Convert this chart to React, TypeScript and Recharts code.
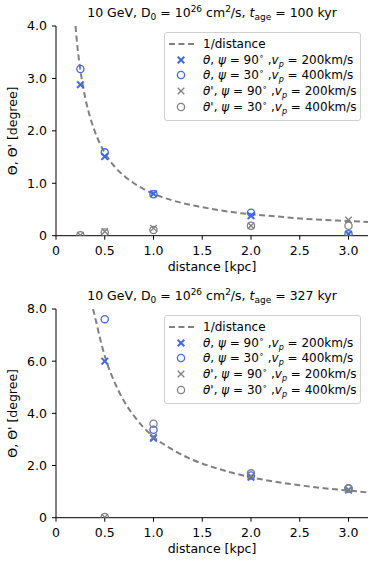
import React from 'react';
import { ComposedChart, Line, Scatter, XAxis, YAxis, Legend } from 'recharts';

const FONT = '"DejaVu Sans", "Liberation Sans", sans-serif';
const BLUE = '#4169e1';
const GRAY = '#808080';

// upper panel, t_age = 100 kyr
const distTop = [0.25, 0.5, 1.0, 2.0, 3.0];
const thetaP90Top = [2.88, 1.51, 0.8, 0.38, 0.03];
const thetaP30Top = [3.18, 1.59, 0.79, 0.44, 0.03];
const thetaPrime90Top = [0.01, 0.08, 0.14, 0.19, 0.3];
const thetaPrime30Top = [0.01, 0.06, 0.11, 0.19, 0.19];
const curveDistTop = [0.2, 0.22, 0.25, 0.3, 0.35, 0.4, 0.45, 0.5, 0.6, 0.7, 0.8, 0.9, 1.0, 1.2, 1.4, 1.6, 1.8, 2.0, 2.25, 2.5, 2.75, 3.0, 3.2];
const curveValTop = [4.0, 3.6, 3.16, 2.63, 2.26, 1.98, 1.76, 1.58, 1.32, 1.14, 1.0, 0.89, 0.8, 0.67, 0.58, 0.51, 0.45, 0.41, 0.37, 0.33, 0.3, 0.28, 0.26];

// lower panel, t_age = 327 kyr
const distBot = [0.5, 1.0, 2.0, 3.0];
const thetaP90Bot = [6.0, 3.05, 1.55, 1.06];
const thetaP30Bot = [7.61, 3.37, 1.62, 1.12];
const thetaPrime90Bot = [0.02, 3.1, 1.6, 1.07];
const thetaPrime30Bot = [0.03, 3.6, 1.7, 1.13];
const curveDistBot = [0.38, 0.4, 0.45, 0.5, 0.55, 0.6, 0.7, 0.8, 0.9, 1.0, 1.2, 1.4, 1.6, 1.8, 2.0, 2.25, 2.5, 2.75, 3.0, 3.2];
const curveValBot = [8.0, 7.7, 6.9, 6.2, 5.65, 5.2, 4.45, 3.9, 3.45, 3.1, 2.6, 2.22, 1.95, 1.73, 1.55, 1.38, 1.24, 1.13, 1.04, 0.97];

const xTicks = [0, 0.5, 1.0, 1.5, 2.0, 2.5, 3.0];
const yTicksTop = [0, 1, 2, 3, 4];
const yTicksBot = [0, 2, 4, 6, 8];

const pts = (xs: number[], ys: number[]) => xs.map((d, i) => ({ d, v: ys[i] }));
const fmt = (v: number) => (v === 0 ? '0' : v.toFixed(1));

const xShape = (color: string, w: number) => (p: any) => (
  <g>
    <line x1={p.cx - 3.3} y1={p.cy - 3.3} x2={p.cx + 3.3} y2={p.cy + 3.3} stroke={color} strokeWidth={w} />
    <line x1={p.cx - 3.3} y1={p.cy + 3.3} x2={p.cx + 3.3} y2={p.cy - 3.3} stroke={color} strokeWidth={w} />
  </g>
);
const oShape = (color: string) => (p: any) => (
  <circle cx={p.cx} cy={p.cy} r={3.6} fill="none" stroke={color} strokeWidth={1.3} />
);

const legendRows = [
  { mark: 'x', color: BLUE, prime: false, psi: 90, v: 200 },
  { mark: 'o', color: BLUE, prime: false, psi: 30, v: 400 },
  { mark: 'x', color: GRAY, prime: true, psi: 90, v: 200 },
  { mark: 'o', color: GRAY, prime: true, psi: 30, v: 400 },
];

function LegendBox() {
  const row = { display: 'flex', alignItems: 'center', height: 15.8 } as const;
  return (
    <div style={{ width: 195, border: '1px solid #d0d0d0', borderRadius: 3, background: 'rgba(255,255,255,0.85)', padding: '3px 0 5px 0', fontFamily: FONT, fontSize: 12, color: '#000', whiteSpace: 'nowrap' }}>
      <div style={row}>
        <svg width={38} height={14}>
          <line x1={4} y1={7} x2={30} y2={7} stroke={GRAY} strokeWidth={2} strokeDasharray="6 3.5" />
        </svg>
        <span>1/distance</span>
      </div>
      {legendRows.map((r, i) => (
        <div key={i} style={row}>
          <svg width={38} height={14}>
            {r.mark === 'x'
              ? xShape(r.color, r.color === BLUE ? 2 : 1.3)({ cx: 16, cy: 7 })
              : oShape(r.color)({ cx: 16, cy: 7 })}
          </svg>
          <span>
            <i>θ</i>{r.prime ? "'" : ''}, <i>ψ</i> = {r.psi}
            <span style={{ fontSize: 8, position: 'relative', top: -5 }}>∘</span> ,<i>v</i>
            <span style={{ fontSize: 8, position: 'relative', top: 3 }}><i>p</i></span> = {r.v}km/s
          </span>
        </div>
      ))}
    </div>
  );
}

const yLabel = (props: any) => {
  const vb = props.viewBox || {};
  const cy = (vb.y ?? 0) + (vb.height ?? 0) / 2;
  return (
    <text x={17} y={cy} transform={`rotate(-90 17 ${cy})`} textAnchor="middle" fontFamily={FONT} fontSize={12.5} fill="#000">
      Θ, Θ' [degree]
    </text>
  );
};

const xLabel = (props: any) => {
  const vb = props.viewBox || {};
  const cx = (vb.x ?? 0) + (vb.width ?? 0) / 2;
  return (
    <text x={cx} y={(vb.y ?? 0) + 35} textAnchor="middle" fontFamily={FONT} fontSize={12.5} fill="#000">
      distance [kpc]
    </text>
  );
};

function Panel(props: {
  height: number; top: number; yMax: number; yTicks: number[]; age: string; legendTop: number;
  dist: number[]; a: number[]; b: number[]; c: number[]; e: number[]; cd: number[]; cv: number[];
}) {
  const tick = { fontFamily: FONT, fontSize: 12.5, fill: '#000' };
  return (
    <div style={{ position: 'relative', width: 374, height: props.height }}>
      <div style={{ position: 'absolute', left: 56, width: 312, top: props.top - 21, textAlign: 'center', fontFamily: FONT, fontSize: 12.5, lineHeight: '16px', whiteSpace: 'nowrap' }}>
        10 GeV, D<span style={{ fontSize: 9, position: 'relative', top: 3 }}>0</span> = 10
        <span style={{ fontSize: 9, position: 'relative', top: -5 }}>26</span> cm
        <span style={{ fontSize: 9, position: 'relative', top: -5 }}>2</span>/s, <i>t</i>
        <span style={{ fontSize: 9, position: 'relative', top: 3 }}>age</span> = {props.age} kyr
      </div>
      <ComposedChart width={374} height={props.height} margin={{ top: props.top, right: 6, bottom: 0, left: 0 }}>
        <XAxis dataKey="d" type="number" domain={[0, 3.2]} ticks={xTicks} tickFormatter={fmt} allowDataOverflow
          tick={tick} tickSize={4} tickMargin={6} stroke="#000" height={props.height - props.top - (props.yMax === 4 ? 209.7 : 208.7)} label={xLabel} />
        <XAxis xAxisId="top" orientation="top" type="number" domain={[0, 3.2]} tick={false} tickLine={false} height={0} stroke="#000" />
        <YAxis dataKey="v" type="number" domain={[0, props.yMax]} ticks={props.yTicks} tickFormatter={fmt} allowDataOverflow
          tick={tick} tickSize={4} tickMargin={5} stroke="#000" width={56} label={yLabel} />
        <YAxis yAxisId="right" orientation="right" type="number" domain={[0, 1]} tick={false} tickLine={false} width={0} stroke="#000" />
        <Legend layout="vertical" align="center" verticalAlign="middle" wrapperStyle={{ left: 164, top: props.legendTop }} content={() => <LegendBox />} />
        <Line data={pts(props.cd, props.cv)} dataKey="v" type="monotone" stroke={GRAY} strokeWidth={2} strokeDasharray="6 3.5" dot={false} isAnimationActive={false} />
        <Scatter data={pts(props.dist, props.a)} dataKey="v" shape={xShape(BLUE, 2)} isAnimationActive={false} />
        <Scatter data={pts(props.dist, props.b)} dataKey="v" shape={oShape(BLUE)} isAnimationActive={false} />
        <Scatter data={pts(props.dist, props.c)} dataKey="v" shape={xShape(GRAY, 1.3)} isAnimationActive={false} />
        <Scatter data={pts(props.dist, props.e)} dataKey="v" shape={oShape(GRAY)} isAnimationActive={false} />
      </ComposedChart>
    </div>
  );
}

export default function App() {
  return (
    <div style={{ position: 'absolute', left: 0, top: 0, width: 374, height: 561, background: '#fff' }}>
      <Panel height={280} top={26} yMax={4} yTicks={yTicksTop} age="100" legendTop={32}
        dist={distTop} a={thetaP90Top} b={thetaP30Top} c={thetaPrime90Top} e={thetaPrime30Top} cd={curveDistTop} cv={curveValTop} />
      <Panel height={281} top={29} yMax={8} yTicks={yTicksBot} age="327" legendTop={35}
        dist={distBot} a={thetaP90Bot} b={thetaP30Bot} c={thetaPrime90Bot} e={thetaPrime30Bot} cd={curveDistBot} cv={curveValBot} />
    </div>
  );
}
